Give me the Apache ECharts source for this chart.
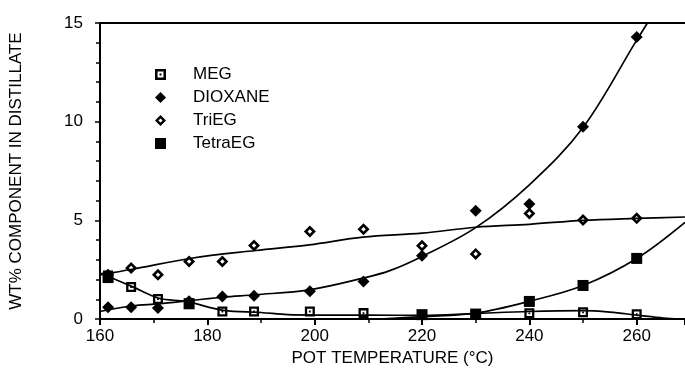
<!DOCTYPE html>
<html>
<head>
<meta charset="utf-8">
<script src="https://cdn.jsdelivr.net/npm/echarts@6/dist/echarts.min.js"></script>
<style>
  html, body { margin: 0; padding: 0; background: #fff; }
  #chart { width: 685px; height: 386px; }
</style>
</head>
<body>
<div id="chart"></div>
<script>
// measured points (pot temperature, wt%)
var temps   = [161.5, 165.8, 170.8, 176.6, 182.8, 188.7, 199.1, 209.1, 220, 230, 240, 250, 260];
var meg     = [2.2, 1.62, 1.01, 0.8, 0.38, 0.38, 0.38, 0.3, 0.2, 0.25, 0.29, 0.34, 0.24];
var dioxane = [0.6, 0.6, 0.56, 0.9, 1.14, 1.18, 1.4, 1.9, 3.2, 5.49, 5.83, 9.74, 14.29];
var triEG   = [2.24, 2.58, 2.24, 2.91, 2.91, 3.72, 4.43, 4.55, 3.71, 3.3, 5.35, 5.02, 5.11];
var tetraTemps = [161.5, 176.6, 220, 230, 240, 250, 260];
var tetraEG    = [2.1, 0.77, 0.22, 0.25, 0.89, 1.7, 3.07];

// fitted curves
var megFitT  = [160, 166, 171, 176, 183, 190, 195, 200, 210, 220, 230, 240, 250, 255, 260, 265, 268];
var megFit   = [2.33, 1.64, 1.05, 0.89, 0.44, 0.33, 0.22, 0.2, 0.2, 0.18, 0.28, 0.38, 0.42, 0.35, 0.2, 0.05, 0];
var dioxFitT = [160, 166, 171, 177, 183, 189, 199, 209, 214, 220, 230, 240, 250, 260, 262];
var dioxFit  = [0.38, 0.67, 0.77, 0.94, 1.11, 1.23, 1.48, 2.07, 2.45, 3.17, 4.63, 6.8, 9.7, 14.13, 15];
var triFitT  = [160, 166, 177, 189, 199, 209, 220, 230, 240, 250, 260, 269];
var triFit   = [2.24, 2.52, 3.08, 3.47, 3.76, 4.15, 4.35, 4.65, 4.8, 5.0, 5.1, 5.17];
var tetFitT  = [212, 220, 230, 240, 250, 260, 269];
var tetFit   = [0.0, 0.12, 0.3, 0.9, 1.7, 3.07, 4.9];

var names = ['MEG', 'DIOXANE', 'TriEG', 'TetraEG'];

function pairs(xs, ys) {
  return xs.map(function (x, i) { return [x, ys[i]]; });
}

var FONT = 'Liberation Sans';
var megSymbol = 'path://M0,0H10V10H0Z M2.3,2.3V7.7H7.7V2.3Z M4.1,4.1H5.9V5.9H4.1Z';
var triSymbol = 'path://M5,0L10,5L5,10L0,5Z M5,3.1L3.1,5L5,6.9L6.9,5Z';

function fitLine(name, xs, ys) {
  return {
    name: name, type: 'line', data: pairs(xs, ys), smooth: 0.35,
    showSymbol: false, silent: true,
    lineStyle: { color: '#000', width: 1.7 }
  };
}

var chart = echarts.init(document.getElementById('chart'));
var option = {
  animation: false,
  grid: { left: 97, right: 0, top: 23, bottom: 67 },
  legend: {
    data: names, orient: 'vertical', left: 150, top: 61,
    itemWidth: 11, itemHeight: 11, itemGap: 6, selectedMode: false,
    formatter: function (n) { return '{a|' + n + '}'; },
    textStyle: {
      color: '#000', fontFamily: FONT, fontSize: 17,
      rich: { a: { padding: [0, 0, 0, 22], fontFamily: FONT, fontSize: 17, color: '#000' } }
    }
  },
  xAxis: [{
    type: 'value', min: 160, max: 269, interval: 20,
    name: 'POT TEMPERATURE (°C)', nameLocation: 'middle', nameGap: 31,
    nameTextStyle: { color: '#000', fontFamily: FONT, fontSize: 17 },
    axisLine: { lineStyle: { color: '#000', width: 2 } },
    axisTick: { length: 6, lineStyle: { color: '#000', width: 2 } },
    minorTick: { show: true, splitNumber: 2, length: 4, lineStyle: { color: '#000', width: 1.5 } },
    axisLabel: { color: '#000', fontFamily: FONT, fontSize: 17, margin: 9, showMaxLabel: false },
    splitLine: { show: false }
  }, {
    type: 'value', position: 'top', min: 160, max: 269,
    axisLine: { show: true, lineStyle: { color: '#000', width: 2 } },
    axisTick: { show: false }, axisLabel: { show: false }, splitLine: { show: false }
  }],
  yAxis: {
    type: 'value', min: 0, max: 15, interval: 5,
    name: 'WT% COMPONENT IN DISTILLATE', nameLocation: 'middle', nameGap: 75,
    nameTextStyle: { color: '#000', fontFamily: FONT, fontSize: 17 },
    axisLine: { show: true, lineStyle: { color: '#000', width: 2 } },
    axisTick: { show: true, length: 5, lineStyle: { color: '#000', width: 1.5 } },
    minorTick: { show: true, splitNumber: 5, length: 4, lineStyle: { color: '#000', width: 1.5 } },
    axisLabel: { color: '#000', fontFamily: FONT, fontSize: 17, margin: 17 },
    splitLine: { show: false }
  },
  series: [
    fitLine('MEG fit', megFitT, megFit),
    fitLine('DIOXANE fit', dioxFitT, dioxFit),
    fitLine('TriEG fit', triFitT, triFit),
    fitLine('TetraEG fit', tetFitT, tetFit),
    { name: 'DIOXANE', type: 'scatter', data: pairs(temps, dioxane), symbol: 'diamond',
      symbolSize: 12, itemStyle: { color: '#000', opacity: 1 } },
    { name: 'TriEG', type: 'scatter', data: pairs(temps, triEG), symbol: triSymbol,
      symbolSize: 12, itemStyle: { color: '#000', opacity: 1 } },
    { name: 'MEG', type: 'scatter', data: pairs(temps, meg), symbol: megSymbol,
      symbolSize: 10, itemStyle: { color: '#000', opacity: 1 } },
    { name: 'TetraEG', type: 'scatter', data: pairs(tetraTemps, tetraEG), symbol: 'rect',
      symbolSize: 11, itemStyle: { color: '#000', opacity: 1 } }
  ]
};
chart.setOption(option);
</script>
</body>
</html>
